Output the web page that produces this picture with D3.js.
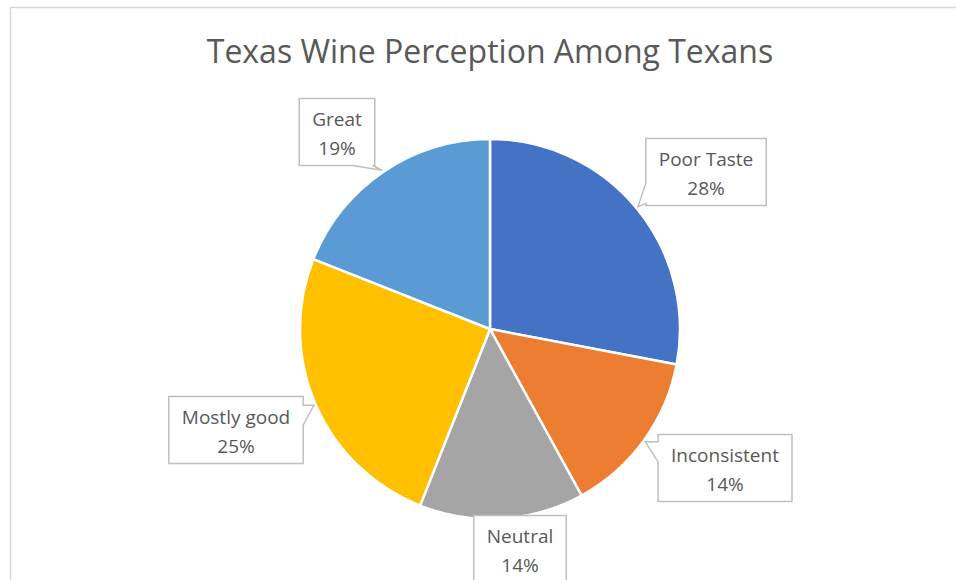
<!DOCTYPE html>
<html>
<head>
<meta charset="utf-8">
<script src="https://cdn.jsdelivr.net/npm/d3@7"></script>
<style>
  body { margin: 0; background: #fff; }
  svg { display: block; }
</style>
</head>
<body>
<svg id="chart" width="956" height="580"></svg>
<script>
// data
var categories = ["Poor Taste", "Inconsistent", "Neutral", "Mostly good", "Great"];
var shares = [28, 14, 14, 25, 19];
var colors = ["#4472C4", "#ED7D31", "#A5A5A5", "#FFC000", "#5B9BD5"];
var title = "Texas Wine Perception Among Texans";

// label box centres, relative to pie centre, and which side the pointer leaves from
var labelAt = {
  "Poor Taste":   {dx: 216,  dy: -157, side: "left"},
  "Inconsistent": {dx: 235,  dy: 139,  side: "left"},
  "Neutral":      {dx: 30,   dy: 220,  side: "top"},
  "Mostly good":  {dx: -254, dy: 101,  side: "right"},
  "Great":        {dx: -153, dy: -197, side: "bottom"}
};

var svg = d3.select("svg#chart");
var width = +svg.attr("width"), height = +svg.attr("height");
var cx = 490, cy = 329, radius = 190;
var font = "'Open Sans', sans-serif";
var textColor = "#595959";

// chart border
svg.append("rect")
  .attr("x", 10.5).attr("y", 7.5)
  .attr("width", width + 20).attr("height", height + 20)
  .attr("fill", "none")
  .attr("stroke", "#d9d9d9")
  .attr("stroke-width", 1.5);

// title
svg.append("text")
  .attr("x", cx)
  .attr("y", 63)
  .attr("text-anchor", "middle")
  .attr("font-family", font)
  .attr("font-size", "32px")
  .attr("fill", textColor)
  .text(title);

var data = categories.map((c, i) => ({name: c, value: shares[i], color: colors[i]}));

var pie = d3.pie().sort(null).value(d => d.value);
var arc = d3.arc().innerRadius(0).outerRadius(radius);

var g = svg.append("g").attr("transform", `translate(${cx},${cy})`);

g.selectAll("path.slice")
  .data(pie(data))
  .enter().append("path")
  .attr("class", "slice")
  .attr("d", arc)
  .attr("fill", d => d.data.color)
  .attr("stroke", "#fff")
  .attr("stroke-width", 2.5)
  .attr("stroke-linejoin", "round");

// callout labels
var pad = 13, boxH = 67, baseW = 20;

pie(data).forEach(function(d){
  var lab = labelAt[d.data.name];
  var lg = g.append("g");
  var t1 = lg.append("text")
    .attr("text-anchor", "middle")
    .attr("font-family", font)
    .attr("font-size", "19px")
    .attr("fill", textColor)
    .attr("x", lab.dx)
    .attr("y", lab.dy - boxH/2 + 27)
    .text(d.data.name);
  var t2 = lg.append("text")
    .attr("text-anchor", "middle")
    .attr("font-family", font)
    .attr("font-size", "19px")
    .attr("fill", textColor)
    .attr("x", lab.dx)
    .attr("y", lab.dy - boxH/2 + 56)
    .text(Math.round(d.value) + "%");
  var w = Math.max(t1.node().getComputedTextLength(), t2.node().getComputedTextLength()) + 2*pad;
  var x0 = lab.dx - w/2, x1 = lab.dx + w/2, y0 = lab.dy - boxH/2, y1 = lab.dy + boxH/2;

  // pointer tip on slice edge at mid angle
  var mid = (d.startAngle + d.endAngle) / 2;
  var tx = Math.sin(mid) * (radius + 2), ty = -Math.cos(mid) * (radius + 2);
  var inside = tx > x0 && tx < x1 && ty > y0 && ty < y1;

  var pts;
  function base(p, a, b, c){
    p = Math.max(a + 2, Math.min(b - 2, p));
    return p < c ? [p, p + baseW] : [p - baseW, p];
  }
  if (inside) {
    pts = [[x0,y0],[x1,y0],[x1,y1],[x0,y1]];
  } else if (lab.side === "left") {
    var b = base(ty, y0, y1, lab.dy);
    pts = [[x0,y0],[x1,y0],[x1,y1],[x0,y1],[x0,b[1]],[tx,ty],[x0,b[0]]];
  } else if (lab.side === "right") {
    var b = base(ty, y0, y1, lab.dy);
    pts = [[x0,y0],[x1,y0],[x1,b[0]],[tx,ty],[x1,b[1]],[x1,y1],[x0,y1]];
  } else if (lab.side === "bottom") {
    var b = base(tx, x0, x1, lab.dx);
    pts = [[x0,y0],[x1,y0],[x1,y1],[b[1],y1],[tx,ty],[b[0],y1],[x0,y1]];
  } else {
    var b = base(tx, x0, x1, lab.dx);
    pts = [[x0,y0],[b[0],y0],[tx,ty],[b[1],y0],[x1,y0],[x1,y1],[x0,y1]];
  }
  lg.insert("path", "text")
    .attr("d", d3.line()(pts) + "Z")
    .attr("fill", "#fff")
    .attr("stroke", "#bfbfbf")
    .attr("stroke-width", 1.5);
});
</script>
</body>
</html>
